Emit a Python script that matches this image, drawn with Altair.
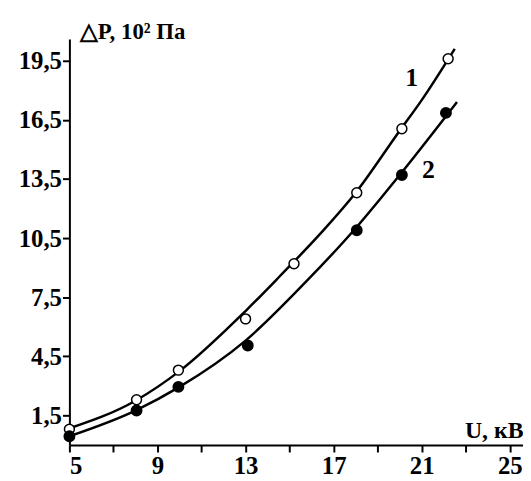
import altair as alt
import pandas as pd

# measured points
u1 = [5, 8.05, 9.95, 13.0, 15.2, 18.05, 20.1, 22.2]
p1 = [0.8, 2.3, 3.8, 6.4, 9.2, 12.8, 16.05, 19.6]
u2 = [5, 8.05, 9.95, 13.1, 18.05, 20.1, 22.1]
p2 = [0.45, 1.75, 2.95, 5.05, 10.9, 13.7, 16.85]

# fitted curves
cu1 = [5, 8, 10, 13, 14.5, 16.5, 18, 20, 21, 22.5]
cp1 = [0.85, 2.25, 3.75, 6.8, 8.5, 10.85, 12.8, 15.95, 17.5, 20.1]
cu2 = [5, 8, 10, 13, 15.8, 18, 20, 22.6]
cp2 = [0.45, 1.75, 2.95, 5.3, 8.35, 11.0, 13.7, 17.4]

# curve labels
lab_text = ["1", "2"]
lab_u = [20.55, 21.3]
lab_p = [18.6, 13.95]

x_ticks = [5, 7, 9, 11, 13, 15, 17, 19, 21, 23, 25]
y_ticks = [1.5, 4.5, 7.5, 10.5, 13.5, 16.5, 19.5]

FONT = "Liberation Serif"

pts1 = pd.DataFrame({"u": u1, "p": p1})
pts2 = pd.DataFrame({"u": u2, "p": p2})
cur1 = pd.DataFrame({"u": cu1, "p": cp1})
cur2 = pd.DataFrame({"u": cu2, "p": cp2})
labs = pd.DataFrame({"u": lab_u, "p": lab_p, "t": lab_text})

xs = alt.Scale(domain=[5, 25.6], nice=False, zero=False)
ys = alt.Scale(domain=[0, 20.6], nice=False, zero=False)

xax = alt.Axis(
    values=x_ticks,
    labelExpr="(datum.value - 5) % 4 == 0 ? datum.label : ''",
    title="U, кВ",
    titleAngle=0,
    titleAlign="right",
    titleBaseline="alphabetic",
    titleX=458,
    titleY=-8,
    titleFontSize=24,
    grid=False,
)
yax = alt.Axis(
    values=y_ticks,
    labelExpr="replace(format(datum.value, '.1f'), '.', ',')",
    title="△P, 10² Па",
    titleAngle=0,
    titleAlign="left",
    titleBaseline="alphabetic",
    titleX=10,
    titleY=0,
    grid=False,
)

X = alt.X("u:Q", scale=xs, axis=xax)
Y = alt.Y("p:Q", scale=ys, axis=yax)

line1 = alt.Chart(cur1).mark_line(color="black", strokeWidth=2.5, interpolate="monotone").encode(x=X, y=Y)
line2 = alt.Chart(cur2).mark_line(color="black", strokeWidth=2.5, interpolate="monotone").encode(x=X, y=Y)
open_pts = alt.Chart(pts1).mark_point(
    shape="circle", filled=True, fill="white", stroke="black", strokeWidth=1.5, size=100, opacity=1
).encode(x=X, y=Y)
fill_pts = alt.Chart(pts2).mark_point(
    shape="circle", filled=True, fill="black", stroke="black", size=100, opacity=1
).encode(x=X, y=Y)
texts = alt.Chart(labs).mark_text(
    font=FONT, fontSize=26, fontWeight="bold", color="black", baseline="middle", align="center"
).encode(x=X, y=Y, text="t:N")

chart = alt.layer(line1, line2, open_pts, fill_pts, texts).properties(
    width=458,
    height=410,
    autosize=alt.AutoSizeParams(type="none"),
    padding={"left": 62, "top": 29, "right": 0, "bottom": 34},
    background="white",
).configure_view(stroke=None).configure_axis(
    domainColor="black",
    domainWidth=2,
    tickColor="black",
    tickWidth=2,
    tickSize=7,
    labelFont=FONT,
    labelFontSize=25,
    labelFontWeight="bold",
    labelColor="black",
    titleFont=FONT,
    titleFontSize=23,
    titleFontWeight="bold",
    titleColor="black",
).configure_axisY(labelPadding=1).configure_axisX(labelPadding=2)

chart.save("out.html", embed_options={"renderer": "svg", "actions": False})
